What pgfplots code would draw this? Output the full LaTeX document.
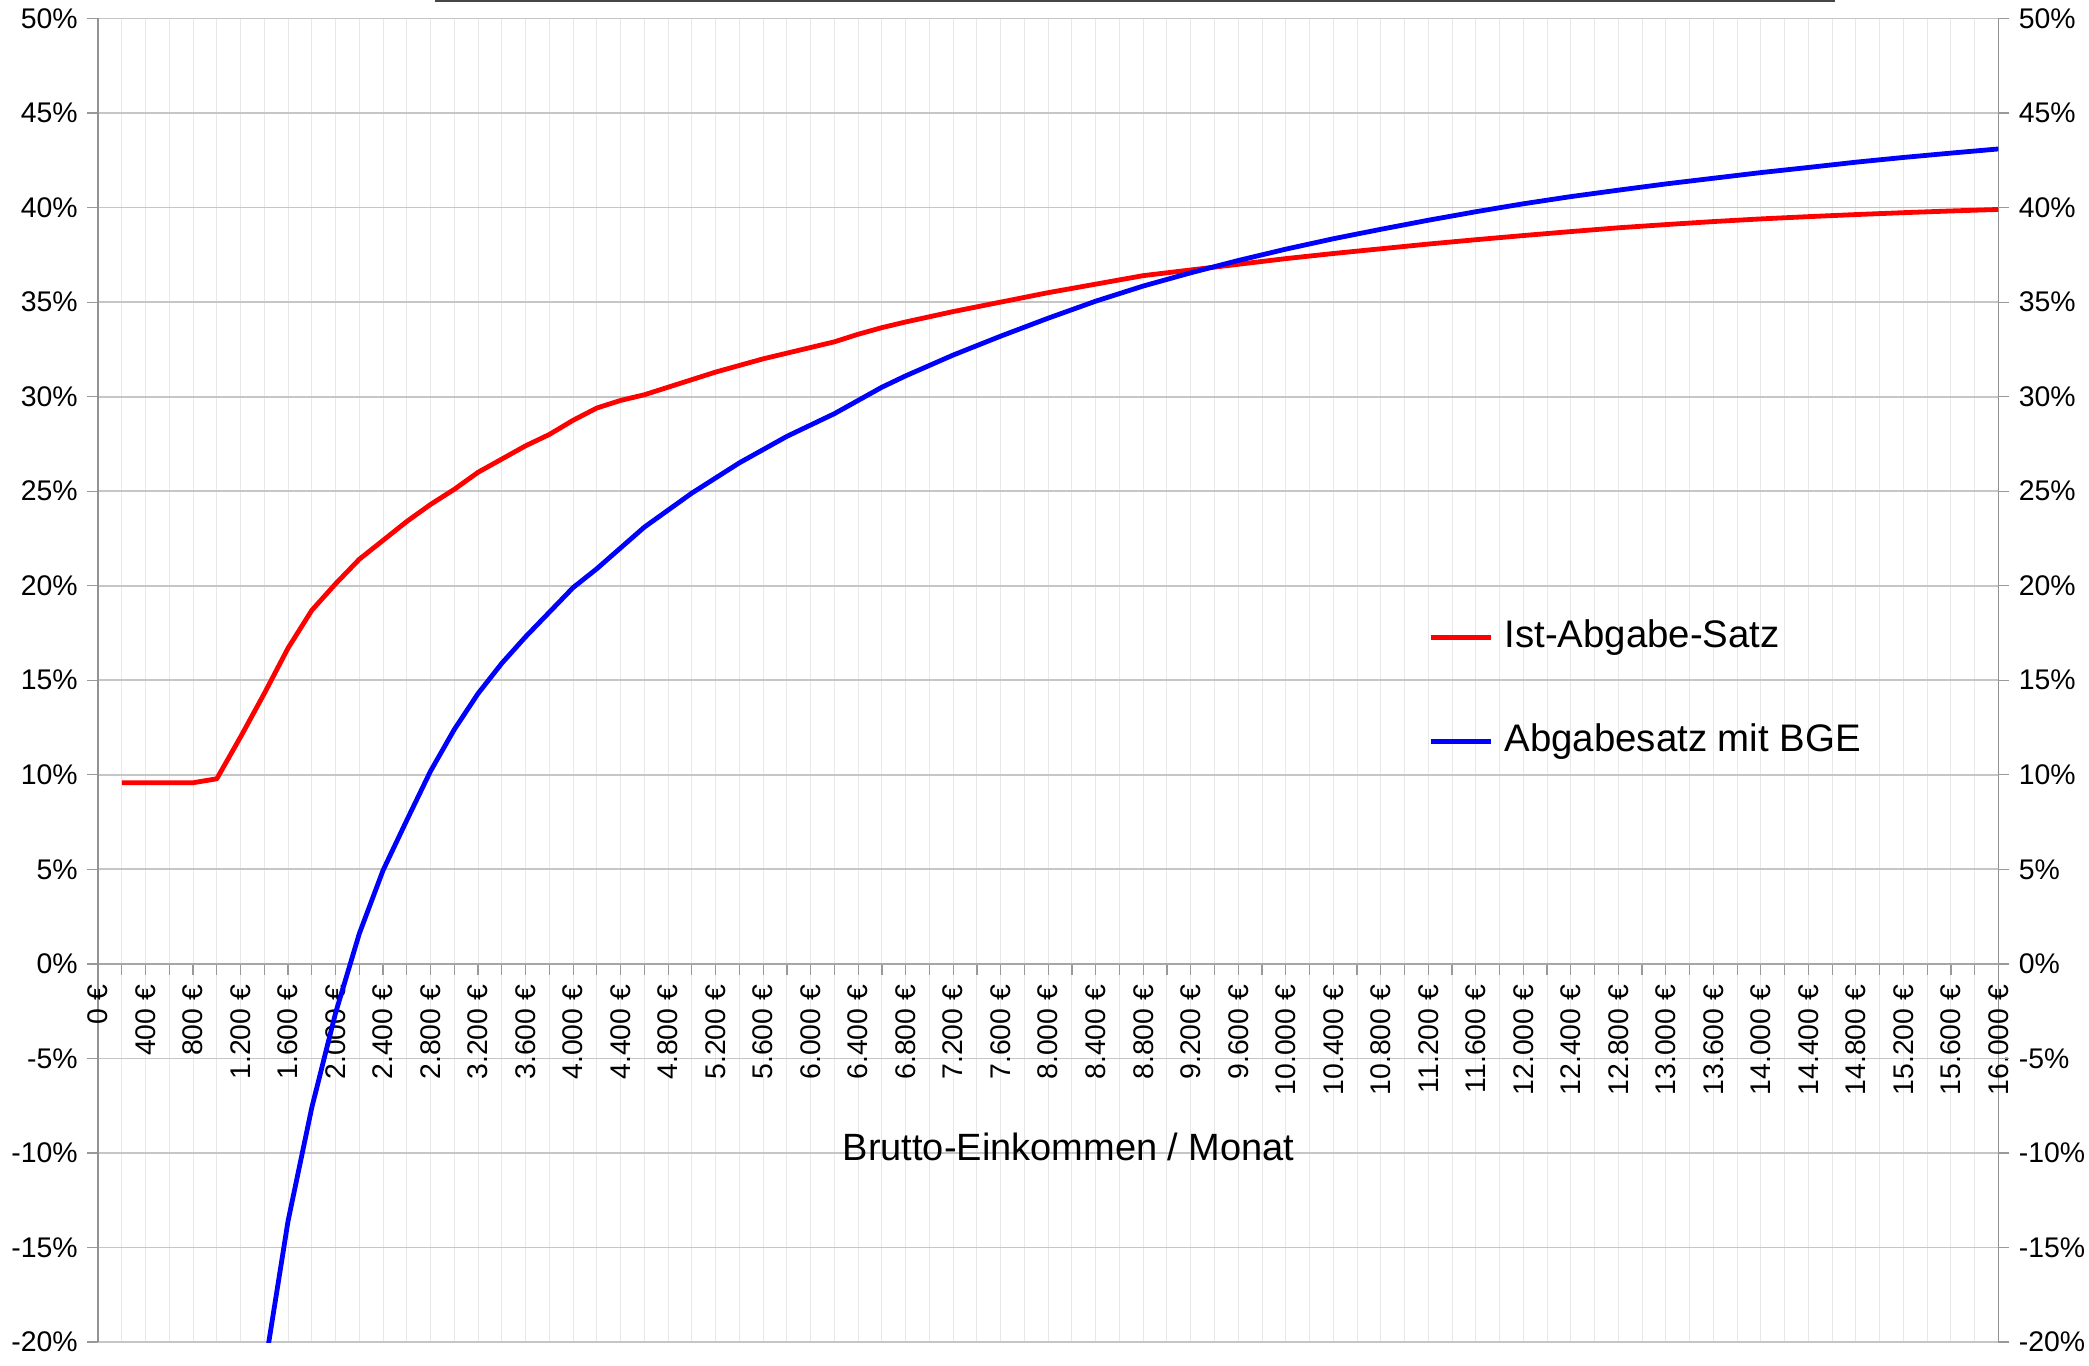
\documentclass[border=0pt]{standalone}
\usepackage{fontspec}
\setmainfont{Liberation Sans}
\usepackage{pgfplots}
\usepackage{pgfplotstable}
\pgfplotsset{compat=1.18}

% Brutto-Einkommen (EUR) / Abgabesatz (%)
\pgfplotstableread{
x y
200 9.58
400 9.58
600 9.58
800 9.58
1000 9.79
1200 12.0
1400 14.3
1600 16.7
1800 18.7
2000 20.1
2200 21.4
2400 22.4
2600 23.4
2800 24.3
3000 25.1
3200 26.0
3400 26.7
3600 27.4
3800 28.0
4000 28.75
4200 29.4
4400 29.8
4600 30.1
4800 30.5
5000 30.9
5200 31.3
5400 31.65
5600 32.0
5800 32.3
6000 32.6
6200 32.9
6400 33.3
6600 33.65
6800 33.95
7200 34.5
7600 35.0
8000 35.5
8400 35.95
8800 36.4
9200 36.7
9600 37.0
10000 37.3
10400 37.57
10800 37.82
11200 38.07
11600 38.3
12000 38.52
12400 38.73
12800 38.93
13200 39.1
13600 39.26
14000 39.4
14400 39.52
14800 39.63
15200 39.73
15600 39.82
16000 39.9
}\ist

\pgfplotstableread{
x y
1400 -21.5
1600 -13.6
1800 -7.6
2000 -2.6
2200 1.6
2400 4.95
2600 7.6
2800 10.2
3000 12.4
3200 14.3
3400 15.9
3600 17.3
3800 18.6
4000 19.9
4200 20.9
4400 22.0
4600 23.1
4800 24.0
5000 24.9
5200 25.7
5400 26.5
5600 27.2
5800 27.9
6000 28.5
6200 29.1
6400 29.8
6600 30.5
6800 31.1
7200 32.2
7600 33.2
8000 34.15
8400 35.05
8800 35.85
9200 36.55
9600 37.2
10000 37.8
10400 38.35
10800 38.85
11200 39.33
11600 39.78
12000 40.2
12400 40.58
12800 40.92
13200 41.25
13600 41.55
14000 41.85
14400 42.12
14800 42.4
15200 42.65
15600 42.88
16000 43.1
}\bge

\begin{document}
\begin{tikzpicture}
\begin{axis}[
    name=ax,
    scale only axis,
    width=950.2pt, height=661.8pt,
    xmin=0, xmax=16000, ymin=-20, ymax=50,
    axis x line=middle, axis y line=box,
    every inner x axis line/.append style={-},
    x axis line style={-, draw=gray!70, line width=1pt},
    y axis line style={draw=gray!85, line width=0.6pt},
    hide obscured x ticks=false,
    scaled x ticks=false,
    xtick={0,400,...,16000}, minor x tick num=1,
    xticklabels={0 €,400 €,800 €,1.200 €,1.600 €,2.000 €,2.400 €,2.800 €,3.200 €,3.600 €,4.000 €,4.400 €,4.800 €,5.200 €,5.600 €,6.000 €,6.400 €,6.800 €,7.200 €,7.600 €,8.000 €,8.400 €,8.800 €,9.200 €,9.600 €,10.000 €,10.400 €,10.800 €,11.200 €,11.600 €,12.000 €,12.400 €,12.800 €,13.000 €,13.600 €,14.000 €,14.400 €,14.800 €,15.200 €,15.600 €,16.000 €},
    xticklabel style={rotate=90, anchor=east, inner sep=0pt, font=\fontsize{14.2}{17}\selectfont},
    xticklabel shift=4.8pt,
    ytick={-20,-15,...,50}, ytick pos=left,
    yticklabels={-20\%,-15\%,-10\%,-5\%,0\%,5\%,10\%,15\%,20\%,25\%,30\%,35\%,40\%,45\%,50\%},
    yticklabel style={anchor=east, inner sep=0pt, font=\fontsize{14.2}{17}\selectfont},
    yticklabel shift=4.5pt,
    tick align=outside,
    major tick length=5.5pt, minor tick length=5.5pt,
    tick style={draw=gray!80, line width=0.6pt},
    xmajorgrids, xminorgrids, ymajorgrids,
    x grid style={draw=gray!18, line width=0.5pt},
    y grid style={draw=gray!45, line width=0.9pt},
    xlabel={Brutto-Einkommen / Monat},
    xlabel style={at={(axis cs:8172,-10.4)}, anchor=base, font=\fontsize{19}{22}\selectfont},
    legend image code/.code={\draw[#1] (0pt,0pt) -- (30pt,0pt);},
    legend style={at={(axis cs:11200,18.25)}, anchor=north west, draw=none, fill=none,
        inner sep=0pt, column sep=5.5pt, row sep=34pt,
        font=\fontsize{19.2}{22}\selectfont,
        nodes={inner sep=0pt, text height=14pt, text depth=4pt}},
    legend cell align=left,
]
\addplot [red, line width=2.4pt, line join=round] table [x=x, y=y] {\ist};
\addlegendentry{Ist-Abgabe-Satz}
\addplot [blue, line width=2.4pt, line join=round] table [x=x, y=y] {\bge};
\addlegendentry{Abgabesatz mit BGE}
\end{axis}
\begin{axis}[
    at={(ax.south west)}, anchor=south west,
    scale only axis,
    width=950.2pt, height=661.8pt,
    xmin=0, xmax=16000, ymin=-20, ymax=50,
    hide x axis,
    y axis line style={draw=none},
    ytick={-20,-15,...,50}, ytick pos=right, yticklabel pos=right,
    yticklabels={-20\%,-15\%,-10\%,-5\%,0\%,5\%,10\%,15\%,20\%,25\%,30\%,35\%,40\%,45\%,50\%},
    yticklabel style={anchor=west, inner sep=0pt, font=\fontsize{14.2}{17}\selectfont},
    yticklabel shift=4.5pt,
    tick align=outside, major tick length=5.5pt,
    tick style={draw=gray!80, line width=0.6pt},
]
\end{axis}
% cut-off underlined title at the top edge
\draw[gray!55!black, line width=1.2pt] ([shift={(168.5pt,8.8pt)}]ax.north west) -- ([shift={(868.5pt,8.8pt)}]ax.north west);
\pgfresetboundingbox
\path ([shift={(-49pt,-11.9pt)}]ax.south west) rectangle ([shift={(45.3pt,9.25pt)}]ax.north east);
\end{tikzpicture}
\end{document}
